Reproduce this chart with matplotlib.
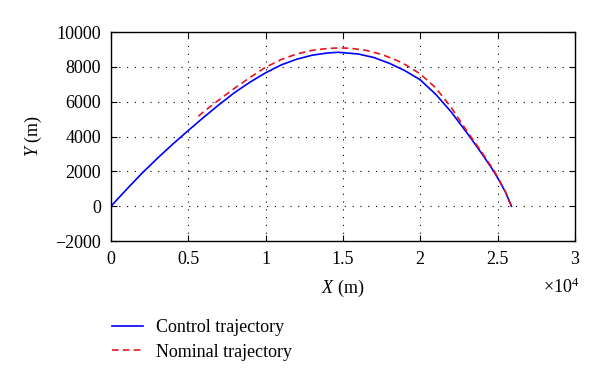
import numpy as np
import matplotlib
matplotlib.use("Agg")
from matplotlib import pyplot as plt
from matplotlib.ticker import FuncFormatter, MultipleLocator

plt.rcParams['font.family'] = 'Liberation Serif'
plt.rcParams['mathtext.fontset'] = 'custom'
plt.rcParams['mathtext.it'] = 'Liberation Serif:italic'
plt.rcParams['mathtext.rm'] = 'Liberation Serif'

# control trajectory (m)
x_control = [0, 1000, 2000, 3000, 4000, 5000, 6000, 7000, 8000, 9000, 10000,
             11000, 12000, 13000, 14000, 14700, 16000, 17000, 18000, 19000,
             20000, 21000, 22000, 23000, 23200, 24000, 24760, 25000, 25500, 25900]
y_control = [0, 960, 1890, 2750, 3570, 4350, 5110, 5840, 6530, 7130, 7660,
             8110, 8440, 8670, 8800, 8840, 8740, 8540, 8210, 7790,
             7260, 6430, 5420, 4240, 4000, 3000, 2000, 1640, 840, 0]

# nominal trajectory (m)
x_nominal = [5650, 6000, 7000, 8000, 9000, 10000, 11000, 12000, 13000, 14000,
             14800, 15500, 16500, 17500, 18500, 19000, 20000, 21000, 22000,
             23000, 24000, 24800, 25500, 25900]
y_nominal = [5170, 5430, 6120, 6780, 7400, 7980, 8420, 8740, 8950, 9060,
             9090, 9070, 8950, 8720, 8370, 8150, 7600, 6800, 5680,
             4340, 3080, 2010, 860, 0]

fs = 13

fig = plt.figure(figsize=(6, 3.82), dpi=100)
ax = fig.add_axes([0.185, 0.369, 0.773, 0.547])

ax.plot(x_control, y_control, color='#0000ff', lw=1.2, label="Control trajectory")
ax.plot(x_nominal, y_nominal, color='#e8141e', lw=1.2, dashes=(4, 2.5),
        label="Nominal trajectory")

ax.set_xlim(0, 30000)
ax.set_ylim(-2000, 10000)
ax.xaxis.set_major_locator(MultipleLocator(5000))
ax.yaxis.set_major_locator(MultipleLocator(2000))
ax.xaxis.set_major_formatter(FuncFormatter(lambda v, p: "{:g}".format(v / 1e4)))

ax.grid(True, color='black', linestyle=(0, (1, 6)), lw=0.8)
ax.tick_params(direction='in', top=True, right=True, labelsize=fs, length=4,
               width=0.8, pad=7)
for s in ax.spines.values():
    s.set_linewidth(1.0)

ax.set_xlabel(r"$X$ (m)", fontsize=fs, labelpad=7)
ax.set_ylabel(r"$Y$ (m)", fontsize=fs, labelpad=8)
ax.text(1.009, -0.22, r"$\times\mathregular{10^4}$", transform=ax.transAxes,
        ha='right', va='center', fontsize=fs)

fig.legend(loc='upper left', bbox_to_anchor=(0.175, 0.183), frameon=False,
           fontsize=fs, handlelength=1.7, handletextpad=0.75,
           labelspacing=0.4, borderaxespad=0)

fig.savefig("out.png", dpi=100)
